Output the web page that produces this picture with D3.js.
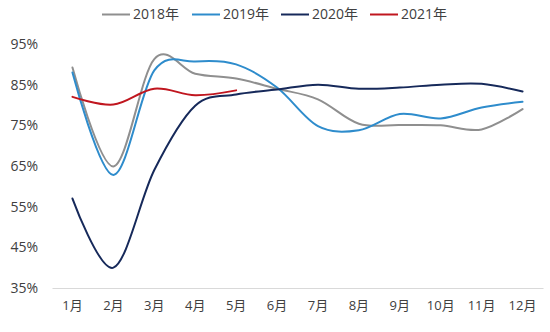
<!DOCTYPE html>
<html>
<head>
<meta charset="utf-8">
<script src="https://cdn.jsdelivr.net/npm/d3@7"></script>
<style>
  html, body { margin: 0; padding: 0; background: #fff; }
  svg { display: block; font-family: "Open Sans", "Noto Sans CJK SC", sans-serif; }
</style>
</head>
<body>
<svg id="chart" width="550" height="332"></svg>
<script>
// Monthly utilisation rate (%) by year
const months = ["1月","2月","3月","4月","5月","6月","7月","8月","9月","10月","11月","12月"];
const years = ["2018年","2019年","2020年","2021年"];
const v2018 = [89.2, 64.9, 91.3, 87.7, 86.5, 84.0, 81.4, 75.4, 75.1, 75.0, 74.0, 79.0];
const v2019 = [88.0, 62.8, 88.5, 90.7, 90.0, 84.3, 74.8, 73.8, 77.8, 76.7, 79.4, 80.8];
const v2020 = [57.0, 40.0, 64.0, 79.8, 82.6, 83.8, 85.0, 84.0, 84.3, 85.0, 85.2, 83.3];
const v2021 = [82.0, 80.1, 84.0, 82.4, 83.6];
const colors = ["#8f8f8f", "#2e8ccc", "#16295a", "#c0161f"];
const yTicks = [35, 45, 55, 65, 75, 85, 95];

const series = [v2018, v2019, v2020, v2021];

const svg = d3.select("#chart");
const x = d3.scaleBand().domain(months).range([52, 543]);
const y = d3.scaleLinear().domain([35, 95]).range([288, 44]);
const textColor = "#404040";

// y axis labels (no axis line)
const yAxis = svg.append("g")
  .attr("transform", "translate(38,0)")
  .call(d3.axisLeft(y).tickValues(yTicks).tickSize(0).tickPadding(0).tickFormat(d => d + "%"));
yAxis.select(".domain").remove();
yAxis.selectAll("text").attr("fill", textColor).attr("font-size", 14)
  .attr("font-family", "'Open Sans', sans-serif");

// x axis
const xAxis = svg.append("g")
  .attr("transform", "translate(0,288)")
  .call(d3.axisBottom(x).tickSize(0).tickPadding(13));
xAxis.select(".domain").attr("stroke", "#d9d9d9");
xAxis.selectAll("text").attr("fill", textColor).attr("font-size", 13)
  .attr("font-family", "'Open Sans', 'Noto Sans CJK SC', sans-serif");

// smoothed lines
const line = d3.line()
  .x((d, i) => x(months[i]) + x.bandwidth() / 2)
  .y(d => y(d))
  .curve(d3.curveCatmullRom.alpha(0));

svg.append("g").selectAll("path")
  .data(series)
  .join("path")
  .attr("d", d => line(d))
  .attr("fill", "none")
  .attr("stroke", (d, i) => colors[i])
  .attr("stroke-width", 2)
  .attr("stroke-linecap", "round");

// legend
const legendX = [102, 192, 281, 370];
const legend = svg.append("g").selectAll("g")
  .data(years)
  .join("g")
  .attr("transform", (d, i) => `translate(${legendX[i]},14.5)`);
legend.append("line")
  .attr("x1", 0).attr("x2", 28)
  .attr("stroke", (d, i) => colors[i])
  .attr("stroke-width", 2);
legend.append("text")
  .attr("x", 31)
  .attr("dy", "0.35em")
  .attr("fill", textColor)
  .attr("font-size", 14)
  .attr("font-family", "'Open Sans', 'Noto Sans CJK SC', sans-serif")
  .text(d => d);
</script>
</body>
</html>
